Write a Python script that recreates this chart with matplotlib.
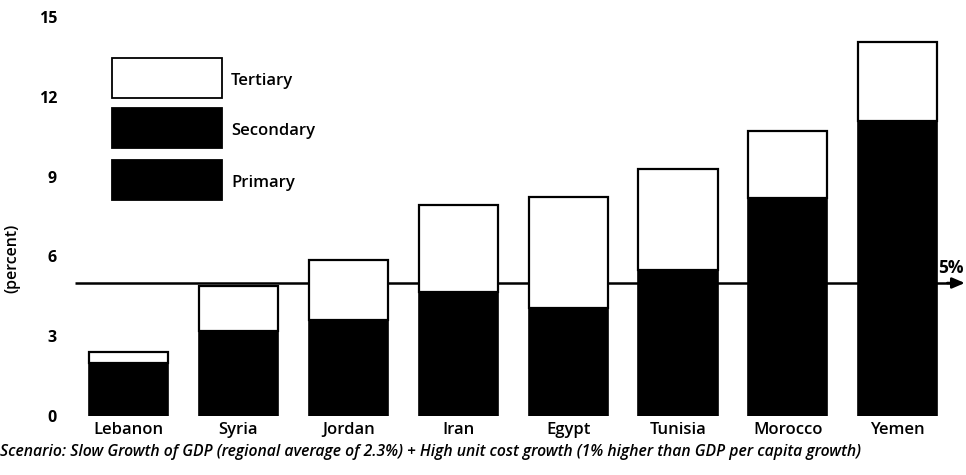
import matplotlib
matplotlib.use("Agg")
import matplotlib.pyplot as plt
from matplotlib.patches import Rectangle
from matplotlib.lines import Line2D
import numpy as np

countries = ["Lebanon", "Syria", "Jordan", "Iran", "Egypt", "Tunisia", "Morocco", "Yemen"]
# Primary + Secondary (both drawn black in the original, split not visible)
primary_secondary = [2.0, 3.2, 3.6, 4.65, 4.05, 5.5, 8.2, 11.1]
totals = [2.4, 4.9, 5.85, 7.95, 8.25, 9.3, 10.7, 14.05]
tertiary = [t - p for t, p in zip(totals, primary_secondary)]
yticks = [0, 3, 6, 9, 12, 15]
threshold = 5
legend_labels = ["Tertiary", "Secondary", "Primary"]
legend_colors = ["white", "black", "black"]
caption = ("Scenario: Slow Growth of GDP (regional average of 2.3%) + High unit cost growth "
           "(1% higher than GDP per capita growth)")

W, H = 966, 475
fig = plt.figure(figsize=(W / 100, H / 100), dpi=100)
fig.patch.set_facecolor("white")

def fx(px):
    return px / W

def fy(py):
    return 1 - py / H

ax_left, ax_right, ax_bottom, ax_top = 75, 950, 416, 17
ax = fig.add_axes([fx(ax_left), fy(ax_bottom), fx(ax_right - ax_left), (ax_bottom - ax_top) / H])
ax.set_zorder(1)
ax.set_xlim(-0.487, 7.475)
ax.set_ylim(0, 15)
ax.patch.set_visible(False)
for s in ax.spines.values():
    s.set_visible(False)

FONT = "Open Sans"
x = np.arange(len(countries))

# 5% threshold line, drawn at figure level beneath the axes so bars hide it
thr_line = Line2D([-0.487, 7.5], [threshold, threshold], color="black", lw=1.8,
                  transform=ax.transData, solid_capstyle="butt")
thr_line.set_zorder(0)
fig.add_artist(thr_line)
ax.annotate("", xy=(7.61, threshold), xytext=(7.45, threshold),
            arrowprops=dict(arrowstyle="-|>,head_length=0.75,head_width=0.32", color="black", lw=1.8,
                            shrinkA=0, shrinkB=0),
            annotation_clip=False)
ax.text(7.595, threshold + 0.22, "5%", fontsize=12.5, fontweight="bold", family=FONT,
        ha="right", va="bottom", clip_on=False)

ax.bar(x, primary_secondary, width=0.72, color="black", edgecolor="black", lw=1.2)
ax.bar(x, tertiary, bottom=primary_secondary, width=0.72, color="white", edgecolor="black", lw=1.6)

ax.set_yticks(yticks)
ax.set_yticklabels([str(v) for v in yticks], fontsize=11.5, fontweight="bold", family=FONT)
ax.tick_params(axis="y", length=0, pad=13)
ax.set_xticks(x)
ax.set_xticklabels(countries, fontsize=12, family=FONT, fontweight="semibold")
ax.tick_params(axis="x", length=0, pad=4)

fig.text(fx(12), fy(258), "(percent)", rotation=90, fontsize=11.5, family=FONT,
         fontweight="semibold", ha="center", va="center")

fig.text(fx(0), fy(452), caption, fontsize=11.3, family=FONT, style="italic",
         fontweight="semibold", ha="left", va="center")

# Legend boxes
box_x, box_w, box_h = 112, 110, 40
box_tops = [58, 108, 160]
for lab, col, top in zip(legend_labels, legend_colors, box_tops):
    fig.add_artist(Rectangle((fx(box_x), fy(top + box_h)), fx(box_w), box_h / H,
                             transform=fig.transFigure, facecolor=col, edgecolor="black", lw=1.3))
    fig.text(fx(box_x + box_w + 9), fy(top + box_h / 2 + 3), lab, fontsize=12, family=FONT,
             fontweight="semibold", ha="left", va="center")

fig.savefig("out.png", dpi=100, facecolor="white")
